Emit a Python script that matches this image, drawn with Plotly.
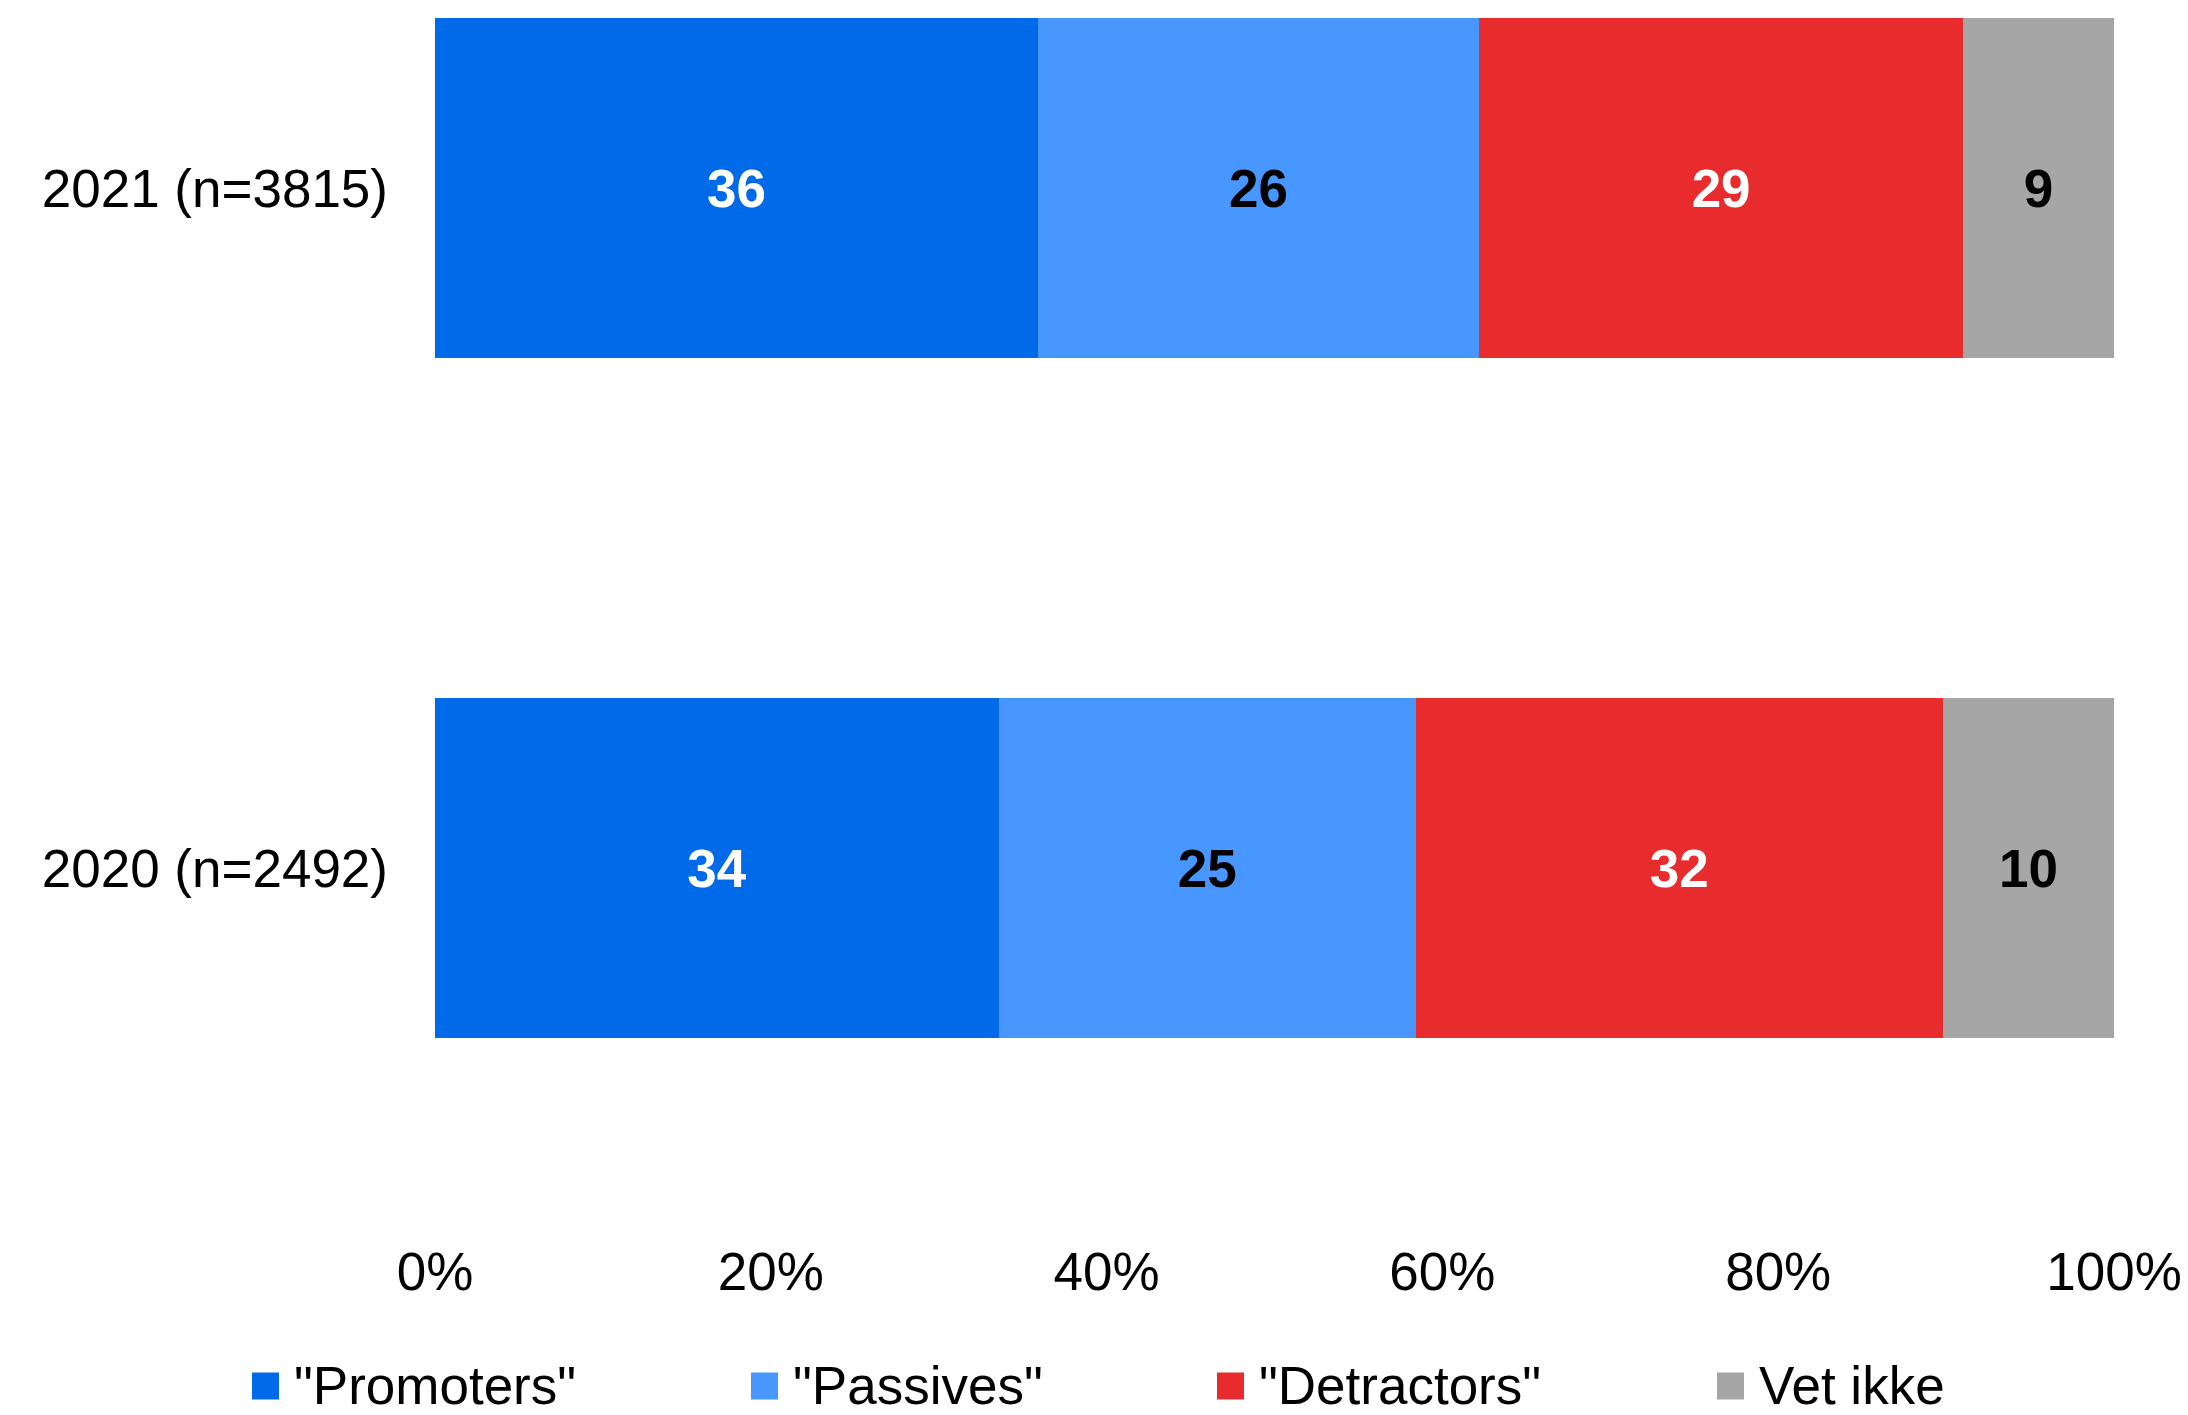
import plotly.graph_objects as go

# ---- data ----
categories = ["2021 (n=3815)", "2020 (n=2492)"]
series_names = ['"Promoters"', '"Passives"', '"Detractors"', "Vet ikke"]
promoters = [35.9, 33.6]
passives = [26.3, 24.8]
detractors = [28.8, 31.4]
vet_ikke = [9.0, 10.2]
promoters_labels = ["36", "34"]
passives_labels = ["26", "25"]
detractors_labels = ["29", "32"]
vet_ikke_labels = ["9", "10"]
x_tickvals = [0, 20, 40, 60, 80, 100]
x_ticktext = ["0%", "20%", "40%", "60%", "80%", "100%"]

# ---- styling ----
colors = ["#006AE8", "#4897FF", "#E82C2E", "#A6A6A6"]
label_colors = ["white", "black", "white", "black"]
FONT = "Liberation Sans, Arial, sans-serif"
FS = 53

W, H = 2188, 1415
L, R = 435, 2114          # plot left/right in px
T, B = 0, 1236            # plot top/bottom in px
C0, STEP = 188, 680       # first category centre px, px per category
PW, PH = R - L, B - T

series_values = [promoters, passives, detractors, vet_ikke]
series_labels = [promoters_labels, passives_labels, detractors_labels, vet_ikke_labels]

fig = go.Figure()
for name, vals, labs, col, lcol in zip(series_names, series_values, series_labels, colors, label_colors):
    fig.add_trace(go.Bar(
        y=categories, x=vals, name=name, orientation="h",
        marker=dict(color=col, line=dict(width=0)),
        text=labs, textposition="inside", insidetextanchor="middle",
        textangle=0, constraintext="none",
        textfont=dict(family=FONT, size=FS, color=lcol, weight="bold"),
        showlegend=False, hoverinfo="skip",
    ))

def px_x(px):
    return (px - L) / PW

def px_y(py):
    return (B - py) / PH

# manual legend (squares + text) to match reference geometry
legend_marker_x = [252, 751, 1217, 1717]
legend_size = 27
legend_cy = 1386
shapes, annotations = [], []
for name, col, mx in zip(series_names, colors, legend_marker_x):
    shapes.append(dict(type="rect", xref="paper", yref="paper",
                       x0=px_x(mx), x1=px_x(mx + legend_size),
                       y0=px_y(legend_cy + legend_size / 2), y1=px_y(legend_cy - legend_size / 2),
                       fillcolor=col, line=dict(width=0), layer="above"))
    annotations.append(dict(xref="paper", yref="paper", x=px_x(mx + legend_size + 14), y=px_y(legend_cy - 1),
                            xanchor="left", yanchor="middle", text=name, showarrow=False,
                            borderpad=0,
                            font=dict(family=FONT, size=FS, color="black")))

fig.update_layout(
    width=W, height=H,
    margin=dict(l=L, r=W - R, t=T, b=H - B, pad=0),
    barmode="stack", bargap=0.5,
    plot_bgcolor="white", paper_bgcolor="white",
    font=dict(family=FONT, size=FS, color="black"),
    xaxis=dict(range=[0, 100], tickvals=x_tickvals, ticktext=x_ticktext,
               showgrid=False, zeroline=False, showline=False, ticks="",
               tickfont=dict(family=FONT, size=FS, color="black")),
    yaxis=dict(categoryorder="array", categoryarray=categories,
               range=[(B - C0) / STEP, (T - C0) / STEP],
               showgrid=False, zeroline=False, showline=False, ticks="",
               ticklabelstandoff=46,
               tickfont=dict(family=FONT, size=FS, color="black")),
    shapes=shapes, annotations=annotations,
)

fig.write_html("out.html", config={"displayModeBar": False},
               post_script="document.body.style.margin='0';")
